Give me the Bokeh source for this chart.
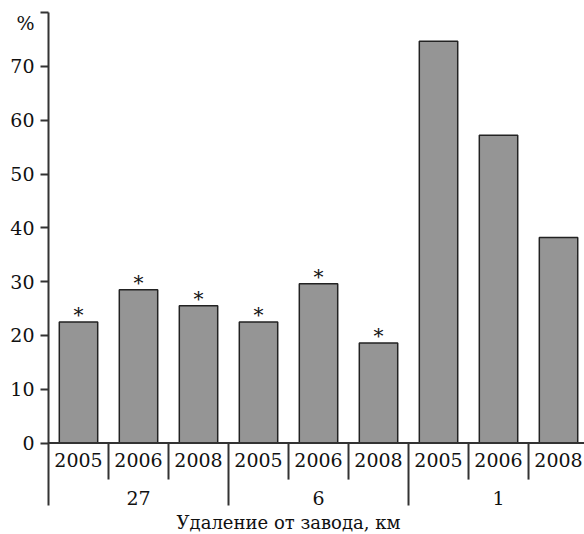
from bokeh.plotting import figure
from bokeh.models import Range1d, FixedTicker, Span, ColumnDataSource
from bokeh.core.properties import value
from bokeh.embed import file_html
from bokeh.resources import INLINE

# ---- data ----
groups = ["27", "6", "1"]                 # distance from plant, km
years = ["2005", "2006", "2008"]
percent = [22.5, 28.5, 25.5, 22.5, 29.6, 18.6, 74.7, 57.2, 38.2]
significant = [True, True, True, True, True, True, False, False, False]
y_ticks = [0, 10, 20, 30, 40, 50, 60, 70]
y_top = 80
y_unit_label = "%"
y_unit_pos = 78
x_title = "Удаление от завода, км"

FONT = "DejaVu Serif"
TXT = "#111111"
AX = "#333333"

n_years = len(years)
xs = [i + 0.5 for i in range(len(percent))]
year_labels = [years[i % n_years] for i in range(len(percent))]
group_x = [g * n_years + n_years / 2 for g in range(len(groups))]
year_sep = [i for i in range(1, len(percent)) if i % n_years != 0]
group_sep = [i for i in range(n_years, len(percent), n_years)]

src = ColumnDataSource(dict(x=xs, top=percent, year=year_labels))
sig = ColumnDataSource(dict(x=[x for x, s in zip(xs, significant) if s],
                            y=[v for v, s in zip(percent, significant) if s]))

AXIS_BOTTOM = -11.62
p = figure(width=584, height=534, x_range=Range1d(0, 8.933), y_range=Range1d(-17.01, 82.27),
           output_backend="svg", toolbar_location=None, x_axis_type=None,
           min_border_left=48, min_border_right=0, min_border_top=0, min_border_bottom=0)
p.outline_line_color = None
p.grid.visible = False
p.background_fill_color = "white"
p.border_fill_color = "white"

ax = p.yaxis[0]
ax.bounds = (AXIS_BOTTOM, y_top)
ax.ticker = FixedTicker(ticks=y_ticks + [y_unit_pos], minor_ticks=y_ticks + [y_top])
ax.major_label_overrides = {y_unit_pos: y_unit_label}
ax.major_tick_line_color = None
ax.major_tick_out = 8
ax.major_tick_in = 0
ax.minor_tick_out = 8
ax.minor_tick_in = 0
ax.minor_tick_line_color = AX
ax.minor_tick_line_width = 2
ax.major_label_standoff = 6
ax.axis_line_color = AX
ax.axis_line_width = 2
ax.major_label_text_font = FONT
ax.major_label_text_font_size = "19px"
ax.major_label_text_color = TXT

# baseline
p.add_layout(Span(location=0, dimension="width", line_color=AX, line_width=2))

# bars
p.vbar(x="x", top="top", bottom=0, width=0.64, source=src,
       fill_color="#959595", line_color="#222222", line_width=1.5)

# significance marks
p.text(x="x", y="y", text=value("*"), source=sig, text_align="center",
       text_baseline="alphabetic", y_offset=-7, text_font=value(FONT),
       text_font_size="20px", text_color=TXT)

# separators
p.segment(x0=year_sep, y0=[0] * len(year_sep), x1=year_sep, y1=[-6.8] * len(year_sep),
          line_color=AX, line_width=2)
p.segment(x0=group_sep, y0=[0] * len(group_sep), x1=group_sep,
          y1=[AXIS_BOTTOM] * len(group_sep), line_color=AX, line_width=2)

# year labels
p.text(x="x", y=-3.25, text="year", source=src, text_align="center", text_baseline="middle",
       text_font=value(FONT), text_font_size="19px", text_color=TXT)
# group labels
p.text(x=group_x, y=[-10.3] * len(group_x), text=groups, text_align="center",
       text_baseline="middle", text_font=value(FONT), text_font_size="19px", text_color=TXT)
# x title
p.text(x=[4.0], y=[-14.78], text=[x_title], text_align="center", text_baseline="middle",
       text_font=value(FONT), text_font_size="18px", text_color=TXT)

open("out.html", "w").write(file_html(p, INLINE))
